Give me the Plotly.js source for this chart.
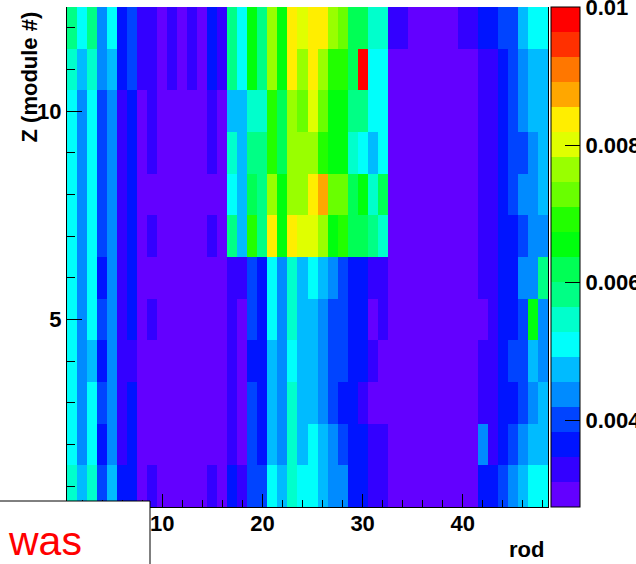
<!DOCTYPE html>
<html>
<head>
<meta charset="utf-8">
<script src="https://cdn.plot.ly/plotly-3.0.1.min.js"></script>
<style>
html,body{margin:0;padding:0;background:#ffffff;}
#chart{width:636px;height:564px;}
</style>
</head>
<body>
<div id="chart"></div>
<script>
// rod numbers (x) and module numbers (y)
const rods = [1,2,3,4,5,6,7,8,9,10,11,12,13,14,15,16,17,18,19,20,21,22,23,24,
              25,26,27,28,29,30,31,32,33,34,35,36,37,38,39,40,41,42,43,44,45,46,47,48];
const modules = [1,2,3,4,5,6,7,8,9,10,11,12];

// values per module (rods 1..48)
const module01 = [.0055,.0047,.0055,.0040,.0047,.0036,.0036,.0029,.0033,.0029,.0029,.0029,.0029,.0029,.0033,.0029,
                  .0036,.0033,.0040,.0040,.0051,.0047,.0055,.0051,.0051,.0047,.0044,.0044,.0036,.0036,.0033,.0033,
                  .0029,.0029,.0029,.0029,.0029,.0029,.0029,.0029,.0029,.0036,.0036,.0040,.0044,.0047,.0051,.0051];
const module02 = [.0051,.0044,.0051,.0036,.0044,.0033,.0036,.0029,.0029,.0029,.0029,.0029,.0029,.0029,.0029,.0029,
                  .0033,.0029,.0040,.0036,.0047,.0044,.0055,.0047,.0051,.0047,.0044,.0040,.0036,.0036,.0033,.0033,
                  .0029,.0029,.0029,.0029,.0029,.0029,.0029,.0029,.0029,.0044,.0033,.0036,.0040,.0044,.0047,.0047];
const module03 = [.0051,.0044,.0051,.0040,.0044,.0033,.0036,.0029,.0029,.0029,.0029,.0029,.0029,.0029,.0029,.0029,
                  .0033,.0029,.0040,.0036,.0047,.0044,.0055,.0047,.0047,.0044,.0040,.0036,.0036,.0033,.0029,.0029,
                  .0029,.0029,.0029,.0029,.0029,.0029,.0029,.0029,.0029,.0033,.0033,.0036,.0036,.0040,.0044,.0047];
const module04 = [.0051,.0044,.0047,.0036,.0044,.0033,.0033,.0029,.0029,.0029,.0029,.0029,.0029,.0029,.0029,.0029,
                  .0033,.0029,.0036,.0036,.0047,.0044,.0051,.0047,.0047,.0044,.0040,.0040,.0036,.0036,.0033,.0029,
                  .0029,.0029,.0029,.0029,.0029,.0029,.0029,.0029,.0029,.0033,.0033,.0036,.0040,.0040,.0047,.0044];
const module05 = [.0051,.0044,.0051,.0040,.0044,.0033,.0036,.0029,.0033,.0029,.0029,.0029,.0029,.0029,.0029,.0029,
                  .0033,.0029,.0040,.0036,.0051,.0044,.0055,.0047,.0047,.0044,.0040,.0040,.0036,.0036,.0029,.0033,
                  .0029,.0029,.0029,.0029,.0029,.0029,.0029,.0029,.0029,.0029,.0033,.0036,.0036,.0040,.0065,.0044];
const module06 = [.0051,.0044,.0051,.0036,.0044,.0033,.0036,.0029,.0029,.0029,.0029,.0029,.0029,.0029,.0029,.0029,
                  .0033,.0033,.0040,.0036,.0051,.0044,.0055,.0047,.0051,.0047,.0044,.0040,.0036,.0036,.0033,.0033,
                  .0029,.0029,.0029,.0029,.0029,.0029,.0029,.0029,.0029,.0033,.0033,.0036,.0036,.0044,.0044,.0058];
const module07 = [.0051,.0044,.0051,.0040,.0044,.0033,.0036,.0029,.0033,.0029,.0029,.0029,.0029,.0029,.0033,.0029,
                  .0058,.0047,.0069,.0058,.0084,.0065,.0084,.0080,.0080,.0076,.0065,.0069,.0062,.0062,.0058,.0055,
                  .0029,.0029,.0029,.0029,.0029,.0029,.0029,.0029,.0029,.0033,.0033,.0036,.0036,.0040,.0044,.0044];
const module08 = [.0051,.0044,.0051,.0040,.0044,.0033,.0036,.0029,.0029,.0029,.0029,.0029,.0029,.0029,.0029,.0029,
                  .0051,.0047,.0062,.0058,.0076,.0065,.0076,.0076,.0084,.0087,.0073,.0073,.0062,.0065,.0055,.0062,
                  .0029,.0029,.0029,.0029,.0029,.0029,.0029,.0029,.0029,.0033,.0033,.0036,.0040,.0044,.0044,.0047];
const module09 = [.0051,.0044,.0051,.0040,.0044,.0033,.0036,.0029,.0033,.0029,.0029,.0029,.0029,.0029,.0033,.0029,
                  .0055,.0047,.0058,.0058,.0069,.0062,.0076,.0076,.0076,.0069,.0065,.0065,.0055,.0051,.0047,.0051,
                  .0029,.0029,.0029,.0029,.0029,.0029,.0029,.0029,.0029,.0033,.0033,.0036,.0040,.0040,.0044,.0047];
const module10 = [.0051,.0044,.0051,.0040,.0044,.0033,.0036,.0029,.0033,.0029,.0029,.0029,.0029,.0029,.0033,.0029,
                  .0047,.0047,.0055,.0055,.0069,.0062,.0076,.0073,.0080,.0073,.0065,.0065,.0058,.0058,.0051,.0051,
                  .0029,.0029,.0029,.0029,.0029,.0029,.0029,.0029,.0029,.0033,.0033,.0036,.0040,.0044,.0047,.0047];
const module11 = [.0055,.0047,.0055,.0044,.0047,.0036,.0040,.0033,.0033,.0029,.0033,.0029,.0033,.0029,.0036,.0033,
                  .0058,.0051,.0065,.0058,.0076,.0065,.0084,.0076,.0084,.0076,.0069,.0069,.0062,.0100,.0051,.0051,
                  .0029,.0029,.0029,.0029,.0029,.0029,.0029,.0029,.0029,.0033,.0033,.0036,.0040,.0044,.0047,.0047];
const module12 = [.0058,.0051,.0058,.0044,.0051,.0036,.0040,.0033,.0033,.0029,.0033,.0029,.0033,.0029,.0036,.0033,
                  .0058,.0051,.0065,.0058,.0076,.0065,.0084,.0080,.0084,.0084,.0076,.0073,.0062,.0062,.0055,.0055,
                  .0033,.0033,.0029,.0029,.0029,.0029,.0029,.0033,.0033,.0036,.0036,.0040,.0040,.0047,.0051,.0051];

// 20 contour level colours (ROOT pretty palette), bottom to top
const levelColors = ['#6300ff','#3300ff','#0014ff','#0044ff','#008bff','#00bbff','#00fffb','#00ffcc',
                     '#00ff85','#00ff55','#00ff0e','#22ff00','#69ff00','#99ff00','#e0ff00','#ffee00',
                     '#ffa700','#ff7700','#ff3000','#ff0000'];
const zMin = 0.00274;
const zMax = 0.01001;

const xTickVals = [10,20,30,40];
const xTickText = ['10','20','30','40'];
const yTickVals = [5,10];
const yTickText = ['5','10'];
const cbTickVals = [0.004,0.006,0.008,0.01];
const cbTickText = ['0.004','0.006','0.008','0.01'];

const colorscale = [];
levelColors.forEach(function(c,i){
  colorscale.push([i/levelColors.length, c]);
  colorscale.push([(i+1)/levelColors.length, c]);
});

const FONT = 'Liberation Sans, Arial, Helvetica, sans-serif';
const tickFont = {family: FONT, size: 22, color: '#000', weight: 'bold'};

const z = [module01,module02,module03,module04,module05,module06,
           module07,module08,module09,module10,module11,module12];

const trace = {
  type: 'heatmap',
  x: rods, y: modules, z: z,
  zmin: zMin, zmax: zMax,
  zsmooth: false,
  colorscale: colorscale,
  hoverinfo: 'skip',
  colorbar: {
    thickness: 29, thicknessmode: 'pixels',
    len: 1, lenmode: 'fraction',
    xref: 'paper', x: (551-67)/481, xanchor: 'left',
    yref: 'paper', y: 1, yanchor: 'top',
    xpad: 0, ypad: 0,
    outlinewidth: 1, outlinecolor: '#000',
    tickmode: 'array', tickvals: cbTickVals, ticktext: cbTickText,
    ticks: 'inside', ticklen: 15, tickwidth: 1, tickcolor: '#000',
    ticklabeloverflow: 'allow',
    tickfont: tickFont
  }
};

const layout = {
  width: 636, height: 564,
  margin: {l: 67, r: 88, t: 7, b: 57, autoexpand: false},
  paper_bgcolor: '#ffffff', plot_bgcolor: '#ffffff',
  showlegend: false,
  xaxis: {
    range: [0.5, 48.5], showgrid: false, zeroline: false,
    showline: true, linecolor: '#000', linewidth: 1,
    tickmode: 'array', tickvals: xTickVals, ticktext: xTickText,
    ticks: 'inside', ticklen: 13, tickwidth: 1, tickcolor: '#000',
    tickfont: tickFont, ticklabelstandoff: -3,
    minor: {dtick: 2, tick0: 0, ticks: 'inside', ticklen: 7, tickwidth: 1, tickcolor: '#000', showgrid: false}
  },
  yaxis: {
    range: [0.5, 12.5], showgrid: false, zeroline: false,
    showline: true, linecolor: '#000', linewidth: 1, mirror: true,
    tickmode: 'array', tickvals: yTickVals, ticktext: yTickText,
    ticks: 'inside', ticklen: 15, tickwidth: 1, tickcolor: '#000',
    tickfont: tickFont,
    minor: {dtick: 1, tick0: 0, ticks: 'inside', ticklen: 8, tickwidth: 1, tickcolor: '#000', showgrid: false}
  },
  shapes: [{
    type: 'rect', xref: 'paper', yref: 'paper', layer: 'above',
    x0: -0.145, x1: (150-67)/481, y0: -0.13, y1: (507-501)/500,
    fillcolor: '#ffffff', line: {color: '#000', width: 1}
  }],
  annotations: [
    {text: 'Z (module #)', xref: 'paper', yref: 'paper', x: (29-67)/481, y: (507-10)/500,
     xanchor: 'center', yanchor: 'top', textangle: -90, showarrow: false,
     font: {family: FONT, size: 22, color: '#000', weight: 'bold'}},
    {text: 'rod', xref: 'paper', yref: 'paper', x: (546-67)/481, y: (507-549)/500,
     xanchor: 'right', yanchor: 'middle', showarrow: false,
     font: {family: FONT, size: 22, color: '#000', weight: 'bold'}},
    {text: 'was', xref: 'paper', yref: 'paper', x: (6-67)/481, y: (507-541)/500,
     xanchor: 'left', yanchor: 'middle', showarrow: false,
     font: {family: FONT, size: 41, color: '#ff0000'}}
  ]
};

Plotly.newPlot('chart', [trace], layout, {displayModeBar: false, staticPlot: true});
</script>
</body>
</html>
